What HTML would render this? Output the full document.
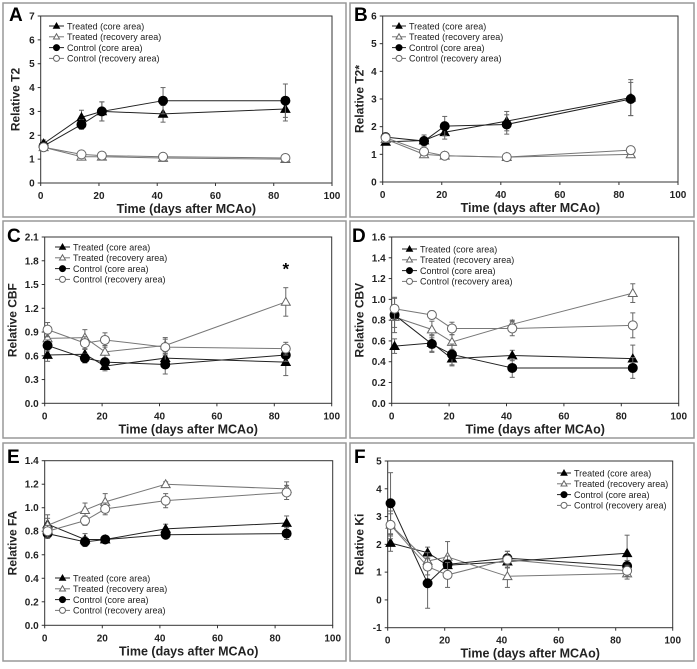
<!DOCTYPE html>
<html><head><meta charset="utf-8"><style>
html,body{margin:0;padding:0;background:#fff;}
svg{display:block;font-family:"Liberation Sans",Arial,sans-serif;}
</style></head><body>
<svg id="fig" width="697" height="669" viewBox="0 0 697 669" xmlns="http://www.w3.org/2000/svg">
<rect x="0" y="0" width="697" height="669" fill="#fff"/>
</svg>
<script>
const days = [1, 14, 21, 42, 84];
const seriesNames = ["Treated (core area)", "Treated (recovery area)", "Control (core area)", "Control (recovery area)"];

const aTC = [1.65, 2.75, 3.0, 2.9, 3.1], aTCe = [0.15, 0.3, 0.4, 0.35, 0.5];
const aTR = [1.5, 1.1, 1.1, 1.05, 1.0], aTRe = [0.08, 0.08, 0.08, 0.08, 0.08];
const aCC = [1.55, 2.45, 3.0, 3.45, 3.45], aCCe = [0.15, 0.2, 0.4, 0.55, 0.7];
const aCR = [1.5, 1.2, 1.15, 1.1, 1.05], aCRe = [0.08, 0.08, 0.08, 0.08, 0.08];

const bTC = [1.45, 1.5, 1.8, 2.2, 3.05], bTCe = [0.1, 0.2, 0.25, 0.35, 0.65];
const bTR = [1.55, 1.0, 0.95, 0.9, 1.0], bTRe = [0.08, 0.1, 0.06, 0.06, 0.06];
const bCC = [1.62, 1.48, 2.02, 2.08, 3.0], bCCe = [0.1, 0.15, 0.35, 0.35, 0.6];
const bCR = [1.6, 1.1, 0.95, 0.9, 1.15], bCRe = [0.08, 0.08, 0.06, 0.06, 0.08];

const cTC = [0.61, 0.62, 0.47, 0.57, 0.52], cTCe = [0.08, 0.07, 0.06, 0.08, 0.17];
const cTR = [0.82, 0.83, 0.65, 0.73, 1.28], cTRe = [0.08, 0.1, 0.08, 0.1, 0.18];
const cCC = [0.73, 0.57, 0.52, 0.49, 0.61], cCCe = [0.07, 0.06, 0.05, 0.12, 0.08];
const cCR = [0.93, 0.76, 0.80, 0.71, 0.69], cCRe = [0.09, 0.08, 0.09, 0.1, 0.08];

const dTC = [0.55, 0.58, 0.43, 0.46, 0.43], dTCe = [0.07, 0.08, 0.07, 0.05, 0.13];
const dTR = [0.83, 0.71, 0.59, 0.76, 1.06], dTRe = [0.1, 0.08, 0.07, 0.04, 0.09];
const dCC = [0.85, 0.57, 0.47, 0.34, 0.34], dCCe = [0.17, 0.08, 0.1, 0.09, 0.1];
const dCR = [0.91, 0.85, 0.72, 0.72, 0.75], dCRe = [0.1, 0.04, 0.06, 0.07, 0.12];

const eTC = [0.86, 0.73, 0.73, 0.82, 0.87], eTCe = [0.08, 0.05, 0.03, 0.04, 0.06];
const eTR = [0.85, 0.98, 1.05, 1.20, 1.16], eTRe = [0.06, 0.06, 0.07, 0.02, 0.06];
const eCC = [0.78, 0.71, 0.73, 0.77, 0.78], eCCe = [0.04, 0.04, 0.02, 0.03, 0.05];
const eCR = [0.80, 0.89, 0.99, 1.06, 1.13], eCRe = [0.05, 0.04, 0.05, 0.06, 0.06];

const fTC = [2.05, 1.7, 1.25, 1.38, 1.68], fTCe = [0.3, 0.2, 0.3, 0.2, 0.65];
const fTR = [2.7, 1.4, 1.55, 0.85, 0.95], fTRe = [0.5, 0.3, 0.55, 0.4, 0.2];
const fCC = [3.48, 0.6, 1.28, 1.5, 1.22], fCCe = [1.1, 0.9, 0.3, 0.25, 0.2];
const fCR = [2.7, 1.2, 0.9, 1.45, 1.05], fCRe = [0.4, 0.3, 0.45, 0.3, 0.2];

const xTicks = [0, 20, 40, 60, 80, 100];
const aYTicks = ["0","1","2","3","4","5","6","7"];
const bYTicks = ["0","1","2","3","4","5","6"];
const cYTicks = ["0.0","0.3","0.6","0.9","1.2","1.5","1.8","2.1"];
const dYTicks = ["0.0","0.2","0.4","0.6","0.8","1.0","1.2","1.4","1.6"];
const eYTicks = ["0.0","0.2","0.4","0.6","0.8","1.0","1.2","1.4"];
const fYTicks = ["-1","0","1","2","3","4","5"];

const NS = "http://www.w3.org/2000/svg";
const svg = document.getElementById("fig");
function mk(tag, attrs, parent) {
  const e = document.createElementNS(NS, tag);
  for (const k in attrs) e.setAttribute(k, attrs[k]);
  (parent || svg).appendChild(e);
  return e;
}

const panels = [
  {id:"a", letter:"A", box:[3,3,343,214], lx:9, ly:21, x0:40.7, x1:332, yT:16, yB:183, yMin:0, yMax:7, yt:aYTicks, ytitle:"Relative T2", yto:25,
   data:[[aTC,aTCe],[aTR,aTRe],[aCC,aCCe],[aCR,aCRe]], leg:[49,67,26]},
  {id:"b", letter:"B", box:[350,3,344,214], lx:354, ly:21, x0:382.7, x1:678, yT:16, yB:182, yMin:0, yMax:6, yt:bYTicks, ytitle:"Relative T2*", yto:23,
   data:[[bTC,bTCe],[bTR,bTRe],[bCC,bCCe],[bCR,bCRe]], leg:[392,409,26]},
  {id:"c", letter:"C", box:[3,221,343,217], lx:7, ly:242, x0:44.7, x1:331.7, yT:237, yB:403.3, yMin:0, yMax:2.1, yt:cYTicks, ytitle:"Relative CBF", yto:32,
   data:[[cTC,cTCe],[cTR,cTRe],[cCC,cCCe],[cCR,cCRe]], leg:[55,73,247], star:[84,1.70]},
  {id:"d", letter:"D", box:[350,221,344,217], lx:352, ly:242, x0:391.7, x1:678.7, yT:237, yB:403.3, yMin:0, yMax:1.6, yt:dYTicks, ytitle:"Relative CBV", yto:32,
   data:[[dTC,dTCe],[dTR,dTRe],[dCC,dCCe],[dCR,dCRe]], leg:[402,420,249]},
  {id:"e", letter:"E", box:[3,443,343,218], lx:7, ly:463, x0:44.7, x1:332.7, yT:460.7, yB:625.3, yMin:0, yMax:1.4, yt:eYTicks, ytitle:"Relative FA", yto:32,
   data:[[eTC,eTCe],[eTR,eTRe],[eCC,eCCe],[eCR,eCRe]], leg:[55,73,578]},
  {id:"f", letter:"F", box:[350,443,344,218], lx:354, ly:463, x0:387.7, x1:672.7, yT:461, yB:627.7, yMin:-1, yMax:5, yt:fYTicks, ytitle:"Relative Ki", yto:28,
   data:[[fTC,fTCe],[fTR,fTRe],[fCC,fCCe],[fCR,fCRe]], leg:[557,574,473]}
];

const lineCol = ["#222", "#777", "#222", "#777"];

function marker(g, k, cx, cy, s) {
  let m;
  if (k === 0 || k === 1) {
    const r = s;
    m = mk("polygon", {points:`${cx},${cy-r} ${cx-r},${cy+r*0.75} ${cx+r},${cy+r*0.75}`,
      fill: k===0 ? "#000" : "#fff", stroke: k===0 ? "#000" : "#666", "stroke-width":1}, g);
  } else {
    m = mk("circle", {cx:cx, cy:cy, r:s, fill: k===2 ? "#000" : "#fff", stroke: k===2 ? "#000" : "#666", "stroke-width":1}, g);
  }
  return m;
}

panels.forEach(p => {
  const g = mk("g", {});
  
  
  const fr = mk("rect", {x:p.box[0], y:p.box[1], width:p.box[2], height:p.box[3], fill:"none", stroke:"#999", "stroke-width":1.5}, g);
  
  
  const L = mk("text", {x:p.lx, y:p.ly, "font-size":19, "font-weight":"bold"}, g);
  L.textContent = p.letter;
  
  

  const xs = v => p.x0 + (v/100)*(p.x1-p.x0);
  const ys = v => p.yB - (v-p.yMin)/(p.yMax-p.yMin)*(p.yB-p.yT);

  const box = mk("rect", {x:p.x0, y:p.yT, width:p.x1-p.x0, height:p.yB-p.yT, fill:"none", stroke:"#333", "stroke-width":1}, g);
  
  

  xTicks.forEach(t => {
    const x = xs(t);
    mk("line", {x1:x, x2:x, y1:p.yB, y2:p.yB+3, stroke:"#333"}, g);
    const tx = mk("text", {x:x, y:p.yB+16, "font-size":10, "font-weight":"bold", "text-anchor":"middle", fill:"#222"}, g);
    tx.textContent = t;
    
    
  });
  p.yt.forEach(t => {
    const y = ys(parseFloat(t));
    mk("line", {x1:p.x0-3, x2:p.x0, y1:y, y2:y, stroke:"#333"}, g);
    const ty = mk("text", {x:p.x0-6, y:y+3.5, "font-size":10, "font-weight":"bold", "text-anchor":"end", fill:"#222"}, g);
    ty.textContent = t;
    
    
  });
  const xt = mk("text", {x:(p.x0+p.x1)/2, y:p.yB+30, "font-size":12.5, "font-weight":"bold", "text-anchor":"middle", fill:"#222"}, g);
  xt.textContent = "Time (days after MCAo)";
  
  
  const yc = (p.yT+p.yB)/2, yx = p.x0-p.yto+4;
  const ytl = mk("text", {x:yx, y:yc, "font-size":12, "font-weight":"bold", "text-anchor":"middle", fill:"#222", transform:`rotate(-90 ${yx} ${yc})`}, g);
  ytl.textContent = p.ytitle;
  
  

  p.data.forEach((d, k) => {
    const vals = d[0], errs = d[1];
    const sg = mk("g", {}, g);
    
    
    vals.forEach((v, i) => {
      const x = xs(days[i]);
      const e1 = ys(v+errs[i]), e2 = ys(v-errs[i]);
      mk("line", {x1:x, x2:x, y1:e1, y2:e2, stroke:"#666", "stroke-width":1}, sg);
      mk("line", {x1:x-2.5, x2:x+2.5, y1:e1, y2:e1, stroke:"#666", "stroke-width":1}, sg);
      mk("line", {x1:x-2.5, x2:x+2.5, y1:e2, y2:e2, stroke:"#666", "stroke-width":1}, sg);
    });
    const pts = vals.map((v,i) => xs(days[i]) + "," + ys(v)).join(" ");
    const pl = mk("polyline", {points:pts, fill:"none", stroke:lineCol[k], "stroke-width":1}, sg);
    
    
    vals.forEach((v, i) => {
      const m = marker(sg, k, xs(days[i]), ys(v), 4.5);
      
      
    });
  });

  if (p.star) {
    const st = mk("text", {x:xs(p.star[0]), y:ys(p.star[1])+6, "font-size":17, "font-weight":"bold", "text-anchor":"middle"}, g);
    st.textContent = "*";
    
    
  }

  const lg = mk("g", {}, g);
  
  
  seriesNames.forEach((n, k) => {
    const y = p.leg[2] + k*10.8;
    const it = mk("g", {}, lg);
    
    
    mk("line", {x1:p.leg[0], x2:p.leg[1]-3, y1:y, y2:y, stroke:lineCol[k], "stroke-width":1}, it);
    marker(it, k, (p.leg[0]+p.leg[1]-3)/2, y, 3);
    const t = mk("text", {x:p.leg[1], y:y+3.3, "font-size":9, fill:"#222"}, it);
    t.textContent = n;
  });
});
</script>
</body></html>
